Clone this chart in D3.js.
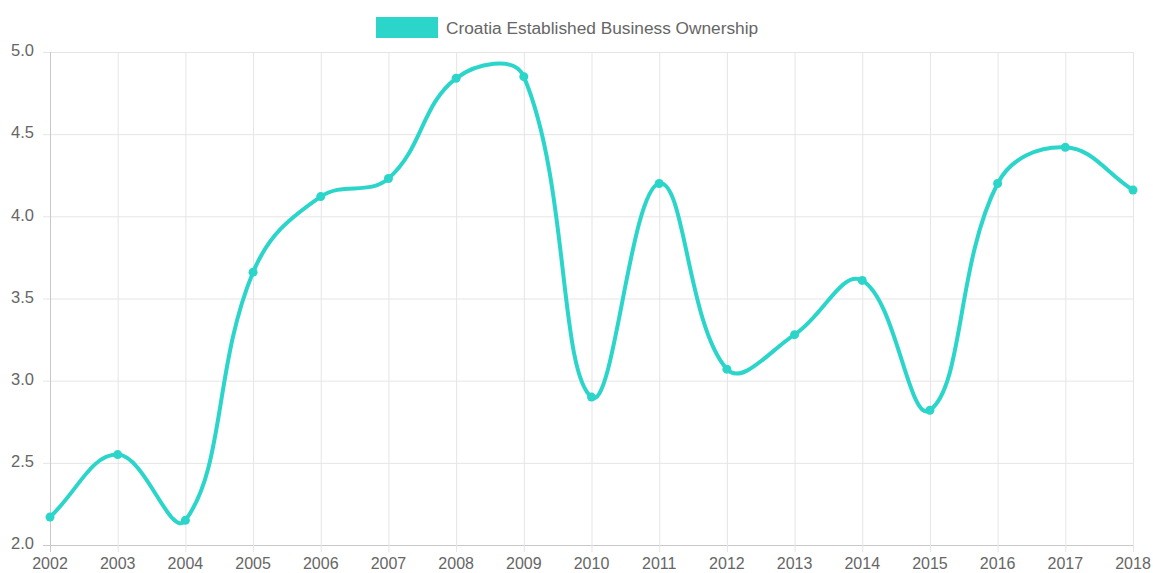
<!DOCTYPE html>
<html><head><meta charset="utf-8">
<script src="https://cdn.jsdelivr.net/npm/d3@7"></script>
<style>body{margin:0;background:#fff;}svg{display:block;font-family:"Liberation Sans",Arial,sans-serif;}</style>
</head><body><svg id="c" width="1153" height="573"></svg>
<script>
const years = ["2002","2003","2004","2005","2006","2007","2008","2009","2010","2011","2012","2013","2014","2015","2016","2017","2018"];
const values = [2.17,2.55,2.15,3.66,4.12,4.23,4.84,4.85,2.90,4.20,3.07,3.28,3.61,2.82,4.20,4.42,4.16];
const yTicks = [2.0,2.5,3.0,3.5,4.0,4.5,5.0];
const seriesName = "Croatia Established Business Ownership";
const color = "#2cd5ca";

const svg = d3.select("#c");
const L=50,R=1133,T=52,B=545;
const x = d3.scalePoint().domain(years).range([L,R]);
const y = d3.scaleLinear().domain([2,5]).range([B,T]);

// grid
const g = svg.append("g");
g.selectAll(".hg").data(yTicks).join("line")
 .attr("x1",L-7).attr("x2",R).attr("y1",d=>y(d)+0.5).attr("y2",d=>y(d)+0.5)
 .attr("stroke",d=>d===2?"#c8c8c8":"#e5e5e5").attr("stroke-width",1);
g.selectAll(".vg").data(years).join("line")
 .attr("x1",d=>x(d)+0.5).attr("x2",d=>x(d)+0.5).attr("y1",T).attr("y2",B+7)
 .attr("stroke",(d,i)=>i===0?"#c8c8c8":"#e5e5e5").attr("stroke-width",1);

// y labels
svg.selectAll(".yl").data(yTicks).join("text")
 .attr("x",34).attr("y",d=>y(d)-1.5).attr("dy","0.35em").attr("text-anchor","end")
 .attr("font-size",16.5).attr("fill","#666").text(d=>d.toFixed(1));
// x labels
svg.selectAll(".xl").data(years).join("text")
 .attr("x",d=>x(d)).attr("y",563.5).attr("dy","0.35em").attr("text-anchor","middle")
 .attr("font-size",16).attr("fill","#666").text(d=>d);

// Chart.js style spline (tension 0.4)
const pts = years.map((yr,i)=>({x:x(yr),y:y(values[i])}));
const t=0.4;
const cps = pts.map((p,i)=>{
  const prev = pts[i-1]||p, next = pts[i+1]||p;
  const d01=Math.hypot(p.x-prev.x,p.y-prev.y), d12=Math.hypot(next.x-p.x,next.y-p.y);
  let s01=d01/(d01+d12), s12=d12/(d01+d12);
  if(isNaN(s01)) s01=0; if(isNaN(s12)) s12=0;
  const fa=t*s01, fb=t*s12;
  return {px:p.x-fa*(next.x-prev.x),py:p.y-fa*(next.y-prev.y),nx:p.x+fb*(next.x-prev.x),ny:p.y+fb*(next.y-prev.y)};
});
const path = d3.path();
path.moveTo(pts[0].x,pts[0].y);
for(let i=1;i<pts.length;i++){
  path.bezierCurveTo(cps[i-1].nx,cps[i-1].ny,cps[i].px,cps[i].py,pts[i].x,pts[i].y);
}
svg.append("path").attr("d",path.toString()).attr("fill","none")
 .attr("stroke",color).attr("stroke-width",4).attr("stroke-linejoin","round");
svg.selectAll(".pt").data(pts).join("circle")
 .attr("cx",d=>d.x).attr("cy",d=>d.y).attr("r",4.5).attr("fill",color);

// legend
svg.append("rect").attr("x",376).attr("y",17).attr("width",62).attr("height",21).attr("fill",color);
svg.append("text").attr("x",446).attr("y",27.5).attr("dy","0.35em").attr("font-size",17.3).attr("fill","#666").text(seriesName);
</script></body></html>
